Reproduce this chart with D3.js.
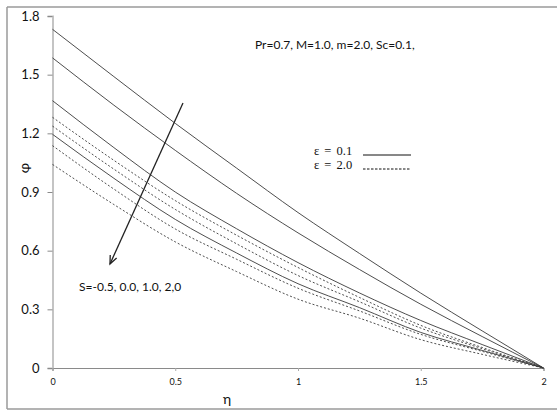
<!DOCTYPE html>
<html>
<head>
<meta charset="utf-8">
<script src="https://cdn.jsdelivr.net/npm/d3@7"></script>
<style>
  html, body { margin: 0; padding: 0; background: #fff; }
  svg { display: block; }
</style>
</head>
<body>
<svg id="chart" width="558" height="411"></svg>
<script>
// η grid shared by all profiles
const eta = [0, 0.25, 0.5, 0.75, 1.0, 1.25, 1.5, 1.75, 2.0];

// φ profiles for ε = 0.1 (solid), S = -0.5, 0.0, 1.0, 2.0
const phiEps01_Sm05 = [1.732, 1.490, 1.251, 1.022, 0.795, 0.586, 0.383, 0.190, 0];
const phiEps01_S00  = [1.586, 1.344, 1.113, 0.893, 0.691, 0.504, 0.326, 0.161, 0];
const phiEps01_S10  = [1.367, 1.127, 0.900, 0.712, 0.539, 0.384, 0.243, 0.120, 0];
const phiEps01_S20  = [1.195, 0.970, 0.760, 0.588, 0.431, 0.309, 0.182, 0.090, 0];

// φ profiles for ε = 2.0 (dashed), S = -0.5, 0.0, 1.0, 2.0
const phiEps20_Sm05 = [1.282, 1.062, 0.856, 0.679, 0.514, 0.361, 0.218, 0.105, 0];
const phiEps20_S00  = [1.237, 1.017, 0.811, 0.635, 0.473, 0.339, 0.204, 0.099, 0];
const phiEps20_S10  = [1.137, 0.915, 0.711, 0.556, 0.408, 0.292, 0.172, 0.085, 0];
const phiEps20_S20  = [1.041, 0.836, 0.645, 0.493, 0.352, 0.255, 0.145, 0.070, 0];

const xTicks = [0, 0.5, 1, 1.5, 2];
const yTicks = [0, 0.3, 0.6, 0.9, 1.2, 1.5, 1.8];

const series = [
  { values: phiEps01_Sm05, dashed: false },
  { values: phiEps01_S00,  dashed: false },
  { values: phiEps01_S10,  dashed: false },
  { values: phiEps01_S20,  dashed: false },
  { values: phiEps20_Sm05, dashed: true },
  { values: phiEps20_S00,  dashed: true },
  { values: phiEps20_S10,  dashed: true },
  { values: phiEps20_S20,  dashed: true }
];

const svg = d3.select("#chart");
const uiFont = "Lato, 'Open Sans', sans-serif";

// outer frame
const frame = svg.append("g").attr("stroke", "#9a9a9a").attr("stroke-width", 1.5).attr("fill", "none");
frame.append("line").attr("x1", 7).attr("x2", 557).attr("y1", 7).attr("y2", 7);
frame.append("line").attr("x1", 7).attr("x2", 7).attr("y1", 7).attr("y2", 409);
frame.append("line").attr("x1", 7).attr("x2", 557).attr("y1", 409).attr("y2", 409);

const x = d3.scaleLinear().domain([0, 2]).range([52.5, 543.5]);
const y = d3.scaleLinear().domain([0, 1.8]).range([368, 16]);

// y axis
const yAxis = svg.append("g")
  .attr("transform", `translate(${x(0)},0)`)
  .call(d3.axisLeft(y).tickValues(yTicks).tickSize(5).tickPadding(8)
    .tickFormat(d => d === 0 ? "0" : d3.format(".1f")(d)));
yAxis.select(".domain").attr("stroke", "#c4c4c4").attr("stroke-width", 2);
yAxis.selectAll(".tick line").attr("stroke", "#8a8a8a");
yAxis.selectAll(".tick text").attr("font-family", uiFont).attr("font-size", 13).attr("fill", "#111");

// x axis
const xAxis = svg.append("g")
  .attr("transform", `translate(0,${y(0)})`)
  .call(d3.axisBottom(x).tickValues(xTicks).tickSize(3).tickPadding(8)
    .tickFormat(d => d3.format("")(d)));
xAxis.select(".domain").attr("stroke", "#8a8a8a").attr("stroke-width", 1.2);
xAxis.selectAll(".tick line").attr("stroke", "#aaa");
xAxis.selectAll(".tick text").attr("font-family", uiFont).attr("font-size", 9).attr("fill", "#111");

// profiles
const line = d3.line()
  .x((d, i) => x(eta[i]))
  .y(d => y(d))
  .curve(d3.curveMonotoneX);

svg.append("g").selectAll("path")
  .data(series)
  .join("path")
  .attr("d", s => line(s.values))
  .attr("fill", "none")
  .attr("stroke", "#3a3a3a")
  .attr("stroke-width", 0.9)
  .attr("stroke-dasharray", s => s.dashed ? "2,2" : null);

// axis titles
svg.append("text")
  .attr("x", 227).attr("y", 404)
  .attr("text-anchor", "middle")
  .attr("font-family", uiFont).attr("font-size", 14).attr("fill", "#111")
  .text("η");
svg.append("text")
  .attr("transform", "translate(29,168) rotate(-90)")
  .attr("text-anchor", "middle")
  .attr("font-family", uiFont).attr("font-size", 14).attr("fill", "#111")
  .text("φ");

// parameter annotation
svg.append("text")
  .attr("x", 255).attr("y", 49)
  .attr("font-family", uiFont).attr("font-size", 12).attr("fill", "#111")
  .text("Pr=0.7, M=1.0, m=2.0, Sc=0.1,");

// legend
const legFont = "'Liberation Serif', 'Times New Roman', serif";
const leg = [
  { label: "ε = 0.1", y: 155, dashed: false },
  { label: "ε = 2.0", y: 169, dashed: true }
];
leg.forEach(d => {
  svg.append("text")
    .attr("x", 314).attr("y", d.y)
    .attr("font-family", legFont).attr("font-size", 12.5).attr("fill", "#111")
    .attr("word-spacing", 2)
    .text(d.label);
  svg.append("line")
    .attr("x1", 363).attr("x2", 411)
    .attr("y1", d.y).attr("y2", d.y)
    .attr("stroke", "#111").attr("stroke-width", 1)
    .attr("stroke-dasharray", d.dashed ? "2.5,1.5" : null);
});

// S direction arrow
const arrow = svg.append("g").attr("stroke", "#222").attr("stroke-width", 1.3).attr("fill", "none");
const ax1 = 183, ay1 = 103, ax2 = 110, ay2 = 264;
arrow.append("line").attr("x1", ax1).attr("y1", ay1).attr("x2", ax2).attr("y2", ay2);
const ang = Math.atan2(ay2 - ay1, ax2 - ax1);
const head = 9, spread = 0.4;
arrow.append("path").attr("d",
  `M${ax2 - head * Math.cos(ang - spread)},${ay2 - head * Math.sin(ang - spread)}` +
  `L${ax2},${ay2}` +
  `L${ax2 - head * Math.cos(ang + spread)},${ay2 - head * Math.sin(ang + spread)}`);

svg.append("text")
  .attr("x", 79).attr("y", 291)
  .attr("font-family", uiFont).attr("font-size", 12).attr("fill", "#111")
  .text("S=-0.5, 0.0, 1.0, 2,0");
</script>
</body>
</html>
